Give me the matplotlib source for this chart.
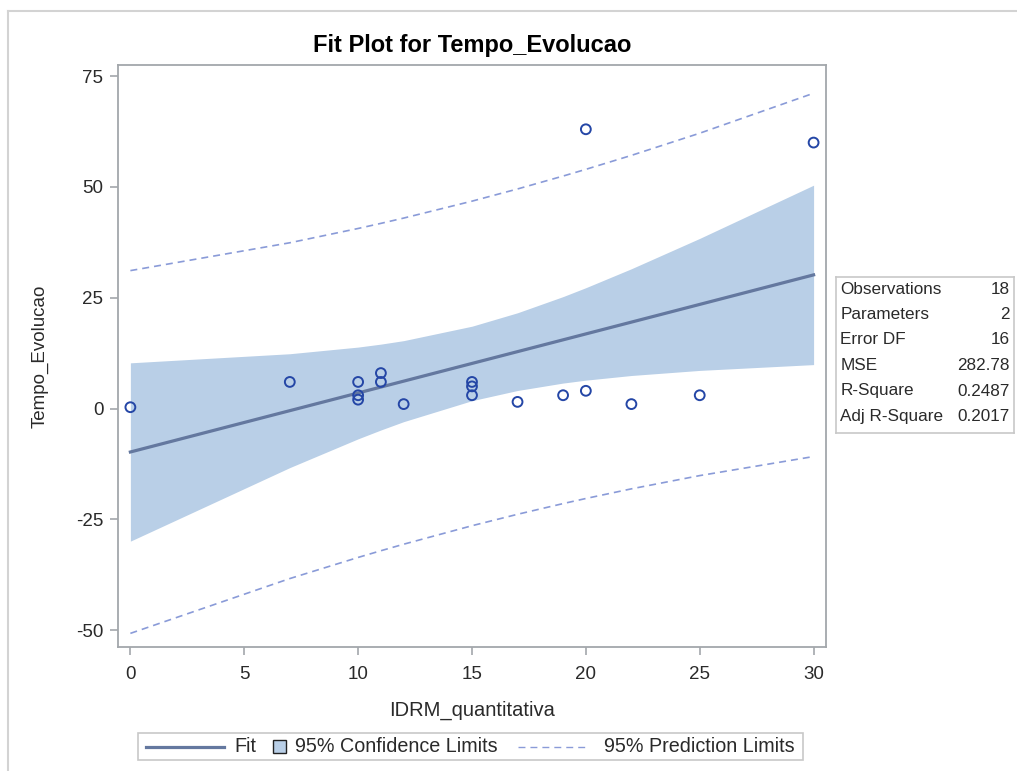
import numpy as np
import matplotlib
matplotlib.use('Agg')
import matplotlib.pyplot as plt
from matplotlib.lines import Line2D
from matplotlib.patches import Rectangle
from matplotlib.offsetbox import HPacker, DrawingArea, TextArea, AnchoredOffsetbox

plt.rcParams['font.family'] = ['Liberation Sans', 'DejaVu Sans']
plt.rcParams['axes.unicode_minus'] = False

# data
idrm = [0, 7, 10, 10, 10, 11, 11, 12, 15, 15, 15, 17, 19, 20, 20, 22, 25, 30]
tempo = [0.3, 6, 6, 3, 2, 8, 6, 1, 6, 5, 3, 1.5, 3, 4, 63, 1, 3, 60]

stat_names = ['Observations', 'Parameters', 'Error DF', 'MSE', 'R-Square', 'Adj R-Square']
stat_values = ['18', '2', '16', '282.78', '0.2487', '0.2017']

x_ticks = [0, 5, 10, 15, 20, 25, 30]
y_ticks = [-50, -25, 0, 25, 50, 75]

t_crit = 2.1199  # t(0.975, 16)

# least squares fit + limits, evaluated at the distinct x values like SAS does
x = np.array(idrm, dtype=float)
y = np.array(tempo, dtype=float)
n = len(x)
slope, icpt = np.polyfit(x, y, 1)
resid = y - (icpt + slope * x)
mse = np.sum(resid ** 2) / (n - 2)
sxx = np.sum((x - x.mean()) ** 2)
xs = np.unique(x)
fit = icpt + slope * xs
se_mean = np.sqrt(mse * (1 / n + (xs - x.mean()) ** 2 / sxx))
se_pred = np.sqrt(mse * (1 + 1 / n + (xs - x.mean()) ** 2 / sxx))

fit_col = '#64789F'
band_col = '#B9CFE7'
pred_col = '#8A9BD8'
mark_col = '#2446A6'
frame_col = '#A3A7AB'
txt_col = '#2a2a2a'
dash = (4.2, 3.0)

fig = plt.figure(figsize=(10.17, 7.71), dpi=100)
ax = fig.add_axes([0.1160, 0.1608, 0.6962, 0.7549])

ax.fill_between(xs, fit - t_crit * se_mean, fit + t_crit * se_mean, color=band_col, lw=0, zorder=1)
ax.plot(xs, fit, color=fit_col, lw=2.3, zorder=3)
ax.plot(xs, fit - t_crit * se_pred, color=pred_col, lw=1.2, dashes=dash, zorder=2)
ax.plot(xs, fit + t_crit * se_pred, color=pred_col, lw=1.2, dashes=dash, zorder=2)
ax.scatter(x, y, s=50, facecolors='none', edgecolors=mark_col, linewidths=1.4, zorder=4)

ax.set_xlim(-0.545, 30.545)
ax.set_ylim(-53.8, 77.5)
ax.set_xticks(x_ticks)
ax.set_yticks(y_ticks)
for s in ax.spines.values():
    s.set_color(frame_col)
    s.set_linewidth(1.3)
ax.tick_params(colors=frame_col, labelcolor=txt_col, labelsize=13.5, length=6, width=1.2)
ax.tick_params(axis='x', pad=7.5)
ax.tick_params(axis='y', pad=4.5)
ax.set_xlabel('IDRM_quantitativa', fontsize=14.5, color=txt_col, labelpad=13)
ax.set_ylabel('Tempo_Evolucao', fontsize=13.5, color=txt_col, labelpad=20)
ax.set_title('Fit Plot for Tempo_Evolucao', fontsize=17, fontweight='bold', pad=9.7)

# stats table on the right
tab = fig.add_axes([836 / 1017, 1 - 433 / 771, 178 / 1017, 156 / 771])
tab.set_xlim(0, 1)
tab.set_ylim(0, 1)
tab.set_xticks([])
tab.set_yticks([])
for s in tab.spines.values():
    s.set_color('#C8C8C8')
    s.set_linewidth(1.2)
for i, (nm, vl) in enumerate(zip(stat_names, stat_values)):
    yy = 1 - (12 + 25.5 * i) / 156
    tab.text(0.025, yy, nm, fontsize=12.3, va='center', ha='left', color=txt_col)
    tab.text(0.975, yy, vl, fontsize=12.3, va='center', ha='right', color=txt_col)


# legend built by hand so each key gets its own width
def gap(w):
    return DrawingArea(w, 10)


fit_key = DrawingArea(56, 10)
fit_key.add_artist(Line2D([0, 56], [5, 5], color=fit_col, lw=2.3))
band_key = DrawingArea(9.4, 10)
band_key.add_artist(Rectangle((0, 0.3), 9.4, 9.4, facecolor=band_col, edgecolor='#222222', lw=1.0))
pred_key = DrawingArea(51, 10)
pred_key.add_artist(Line2D([0, 51], [5, 5], color=pred_col, lw=1.0, dashes=(5.0, 3.6)))

labels = ['Fit', '95% Confidence Limits', '95% Prediction Limits']
tp = dict(size=14.2, color=txt_col)
row = HPacker(children=[gap(3), fit_key, gap(7.5), TextArea(labels[0], textprops=tp), gap(12),
                        band_key, gap(6), TextArea(labels[1], textprops=tp), gap(15),
                        pred_key, gap(11), TextArea(labels[2], textprops=tp), gap(3)],
              sep=0, pad=0, align='center')
box = AnchoredOffsetbox(loc='center', child=row, pad=0.3, borderpad=0, frameon=True,
                        bbox_to_anchor=(470.5 / 1017, 1 - 746.5 / 771),
                        bbox_transform=fig.transFigure)
box.patch.set_edgecolor('#C8C8C8')
box.patch.set_linewidth(1.2)
box.patch.set_boxstyle('square', pad=0)
fig.add_artist(box)

# light outer border of the output
fig.add_artist(Line2D([8 / 1017, 8 / 1017], [0, 1 - 11 / 771], color='#D3D3D3', lw=1.5))
fig.add_artist(Line2D([8 / 1017, 1], [1 - 11 / 771, 1 - 11 / 771], color='#D3D3D3', lw=1.5))

fig.savefig('out.png', dpi=100)
